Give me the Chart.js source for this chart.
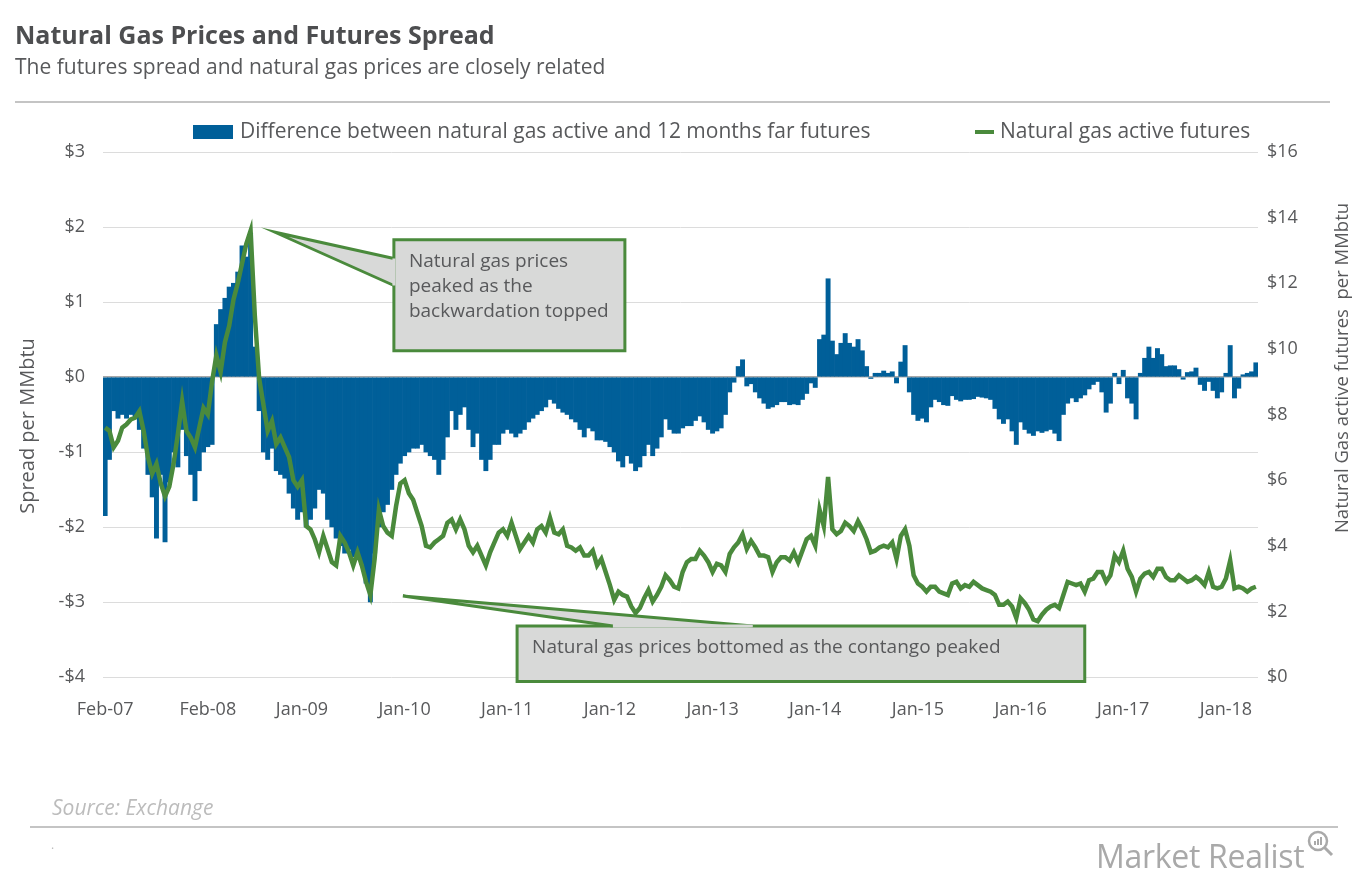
<!DOCTYPE html>
<html>
<head>
<meta charset="utf-8">
<script src="https://cdn.jsdelivr.net/npm/chart.js@4.4.1/dist/chart.umd.min.js"></script>
<style>
    html, body { margin: 0; padding: 0; background: #fff; }
    #wrap { position: relative; width: 1359px; height: 885px; font-family: 'Open Sans', sans-serif; }
    #chart { position: absolute; left: 0; top: 0; }
    .title { position: absolute; left: 15px; top: 17px; font-size: 25px; font-weight: 700; color: #4d4e50; }
    .subtitle { position: absolute; left: 15px; top: 52px; font-size: 21px; font-weight: 400; color: #58595b; }
    .rule { position: absolute; height: 2px; background: #c4c4c4; }
    .source { position: absolute; left: 52px; top: 793px; font-size: 21px; font-style: italic; color: #bcbcbc; }
    .logo { position: absolute; left: 1096px; top: 834px; font-size: 32px; color: #a9a9a9; letter-spacing: -0.3px; }
    .dot { position: absolute; left: 51px; top: 836px; font-size: 12px; color: #bbb; }
</style>
</head>
<body>
<div id="wrap">
    <canvas id="chart" width="1359" height="885"></canvas>
    <div class="title">Natural Gas Prices and Futures Spread</div>
    <div class="subtitle">The futures spread and natural gas prices are closely related</div>
    <div class="rule" style="left:15px; top:101px; width:1315px;"></div>
    <div class="source">Source: Exchange</div>
    <div class="rule" style="left:30px; top:826px; width:1308px;"></div>
    <div class="dot">.</div>
    <div class="logo">Market Realist</div>
    <svg style="position:absolute; left:1305px; top:828px;" width="30" height="32">
        <circle cx="13" cy="13" r="9" fill="none" stroke="#a9a9a9" stroke-width="2.5"/>
        <line x1="19.5" y1="19.5" x2="27" y2="27" stroke="#a9a9a9" stroke-width="3"/>
        <rect x="9" y="13" width="2" height="4" fill="#a9a9a9"/>
        <rect x="12" y="11" width="2" height="6" fill="#a9a9a9"/>
        <rect x="15" y="9" width="2" height="8" fill="#a9a9a9"/>
    </svg>
</div>
<script>
// 반월 단위 데이터: 2007년 2월 전반 ~ 2018년 4월 전반
const startYear = 2007;
const startMonth = 1; // 0 = Jan
const monthNames = ['Jan', 'Feb', 'Mar', 'Apr', 'May', 'Jun', 'Jul', 'Aug', 'Sep', 'Oct', 'Nov', 'Dec'];

// 축 눈금 라벨과 그 위치(반월 인덱스)
const tickLabels = ['Feb-07', 'Feb-08', 'Jan-09', 'Jan-10', 'Jan-11', 'Jan-12', 'Jan-13', 'Jan-14', 'Jan-15', 'Jan-16', 'Jan-17', 'Jan-18'];
const tickIndex = [0, 24, 46, 70, 94, 118, 142, 166, 190, 214, 238, 262];

// 근월물 - 12개월물 스프레드 ($/MMbtu)
const spread = [
    -1.85, -1.1, -0.45, -0.55, -0.5, -0.55, -0.5, -0.55, -0.7, -0.95,
    -1.3, -1.6, -2.15, -1.3, -2.2, -1.4, -1.0, -1.2, -0.7, -1.05,
    -1.3, -1.65, -1.25, -1.0, -0.93, -0.9, 0.7, 0.9, 1.05, 1.2,
    1.25, 1.4, 1.75, 1.6, 1.92, 0.4, -0.45, -1.0, -1.1, -0.95,
    -1.25, -1.3, -1.35, -1.55, -1.75, -1.9, -1.8, -2.0, -1.9, -1.75,
    -1.5, -1.55, -1.9, -2.0, -2.15, -2.25, -2.35, -2.3, -2.4, -2.4,
    -2.5, -2.75, -3.0, -2.35, -2.0, -1.8, -1.7, -1.5, -1.3, -1.15,
    -1.05, -1.0, -0.95, -0.95, -0.9, -1.0, -1.05, -1.1, -1.3, -1.1,
    -0.8, -0.45, -0.7, -0.5, -0.4, -0.7, -0.93, -0.75, -1.1, -1.25,
    -1.1, -0.9, -0.9, -0.75, -0.7, -0.75, -0.8, -0.75, -0.7, -0.6,
    -0.55, -0.5, -0.45, -0.4, -0.3, -0.35, -0.42, -0.47, -0.5, -0.56,
    -0.6, -0.7, -0.8, -0.68, -0.72, -0.84, -0.84, -0.86, -0.93, -1.0,
    -1.12, -1.2, -1.05, -1.15, -1.25, -1.2, -1.05, -0.9, -1.05, -0.95,
    -0.8, -0.56, -0.7, -0.75, -0.75, -0.68, -0.65, -0.65, -0.58, -0.52,
    -0.6, -0.7, -0.75, -0.72, -0.68, -0.5, -0.2, -0.07, 0.14, 0.23,
    -0.12, -0.09, -0.2, -0.28, -0.35, -0.42, -0.4, -0.37, -0.33, -0.33,
    -0.37, -0.36, -0.37, -0.3, -0.22, -0.08, -0.14, 0.5, 0.56, 1.31,
    0.48, 0.3, 0.45, 0.58, 0.45, 0.4, 0.5, 0.35, 0.14, -0.02,
    0.05, 0.05, 0.08, 0.05, 0.07, -0.08, 0.2, 0.42, -0.2, -0.5,
    -0.58, -0.55, -0.6, -0.4, -0.3, -0.33, -0.37, -0.38, -0.25, -0.3,
    -0.32, -0.3, -0.3, -0.29, -0.26, -0.27, -0.28, -0.3, -0.42, -0.56,
    -0.62, -0.56, -0.72, -0.9, -0.6, -0.7, -0.75, -0.78, -0.72, -0.74,
    -0.72, -0.7, -0.75, -0.85, -0.5, -0.35, -0.28, -0.33, -0.28, -0.24,
    -0.16, -0.1, -0.06, -0.2, -0.47, -0.35, 0.05, -0.09, 0.09, -0.28,
    -0.35, -0.56, 0.05, 0.25, 0.4, 0.25, 0.38, 0.3, 0.14, 0.15,
    0.15, 0.1, -0.03, 0.06, 0.07, 0.12, -0.1, -0.18, -0.06, -0.18,
    -0.28, -0.2, 0.05, 0.42, -0.28, -0.15, 0.03, 0.05, 0.07, 0.19
];

// 천연가스 근월물 가격 ($/MMbtu)
const gasPrice = [
    7.6, 7.5, 7.0, 7.2, 7.6, 7.7, 7.85, 7.9, 8.1, 7.5,
    6.7, 6.2, 6.5, 5.9, 5.5, 5.8, 6.5, 7.4, 8.4, 7.5,
    7.3, 7.0, 7.6, 8.2, 8.0, 9.0, 9.8, 9.3, 10.2, 10.7,
    11.5, 12.0, 12.6, 13.2, 13.6, 11.0, 9.1, 8.3, 7.5, 7.8,
    7.1, 7.3, 7.0, 6.7, 6.0, 5.8, 6.0, 4.6, 4.5, 4.2,
    3.8, 4.3, 3.9, 3.5, 3.4, 4.3, 4.1, 3.8, 3.4, 3.8,
    3.4, 2.9, 2.5, 3.6, 5.1, 4.6, 4.4, 4.3, 5.2, 5.9,
    6.0, 5.6, 5.4, 5.0, 4.6, 4.0, 3.95, 4.1, 4.2, 4.3,
    4.7, 4.8, 4.5, 4.8, 4.5, 4.0, 3.8, 4.0, 3.7, 3.4,
    3.8, 4.1, 4.4, 4.5, 4.3, 4.7, 4.3, 3.9, 4.1, 4.3,
    4.1, 4.5, 4.6, 4.4, 4.85, 4.4, 4.35, 4.5, 4.0, 3.95,
    3.85, 3.95, 3.7, 3.7, 3.85, 3.4, 3.6, 3.2, 2.8, 2.35,
    2.6, 2.5, 2.45, 2.15, 1.95, 2.1, 2.4, 2.65, 2.3, 2.5,
    2.75, 3.1, 2.95, 2.75, 2.7, 3.2, 3.5, 3.6, 3.6, 3.85,
    3.7, 3.5, 3.2, 3.45, 3.4, 3.2, 3.75, 3.95, 4.1, 4.35,
    3.9, 4.15, 3.95, 3.7, 3.7, 3.65, 3.2, 3.5, 3.65, 3.65,
    3.55, 3.8, 3.5, 3.85, 4.2, 4.3, 4.0, 5.1, 4.6, 6.1,
    4.5, 4.35, 4.45, 4.7, 4.6, 4.45, 4.75, 4.5, 4.2, 3.8,
    3.85, 3.95, 4.0, 3.95, 4.1, 3.6, 4.3, 4.5, 4.0, 3.1,
    2.85, 2.75, 2.6, 2.75, 2.75, 2.6, 2.55, 2.5, 2.85, 2.9,
    2.7, 2.8, 2.75, 2.9, 2.8, 2.7, 2.65, 2.6, 2.5, 2.2,
    2.2, 2.3, 2.15, 1.8, 2.4, 2.25, 2.05, 1.75, 1.7, 1.9,
    2.05, 2.15, 2.2, 2.1, 2.5, 2.9, 2.85, 2.8, 2.85, 2.6,
    2.95, 3.0, 3.2, 3.2, 2.9, 3.1, 3.7, 3.5, 3.85, 3.3,
    3.05, 2.6, 3.0, 3.15, 3.2, 3.05, 3.3, 3.3, 3.05, 2.95,
    2.95, 3.1, 3.0, 2.9, 2.95, 3.05, 2.95, 2.8, 3.2, 2.75,
    2.7, 2.75, 3.0, 3.55, 2.7, 2.75, 2.7, 2.6, 2.7, 2.75
];

const periods = spread.map((_, i) => {
    const m = startMonth + Math.floor(i / 2);
    const y = startYear + Math.floor(m / 12);
    return `${monthNames[m % 12]}-${String(y).slice(2)} ${i % 2 ? 'H2' : 'H1'}`;
});

const seriesNames = ['Difference between natural gas active and 12 months far futures', 'Natural gas active futures'];
const axisTitles = ['Spread per MMbtu', 'Natural Gas active futures  per MMbtu'];
const barColor = '#005f99';
const lineColor = '#4a8a3c';
const textColor = '#58595b';
const font = "'Open Sans', sans-serif";

// 말풍선 주석: 꼬리 끝(tip), 꼬리 밑변, 박스 모두 (반월 인덱스, 스프레드 값) 좌표
const callouts = [
    {
        lines: ['Natural gas prices', 'peaked as the', 'backwardation topped'],
        box: [67.5, 1.83, 121.5, 0.35],
        tip: [39.7, 1.93],
        base: [[67.5, 1.58], [67.5, 1.22]]
    },
    {
        lines: ['Natural gas prices bottomed as the contango peaked'],
        box: [96.3, -3.32, 229, -4.06],
        tip: [69.6, -2.92],
        base: [[118.7, -3.32], [151.4, -3.32]]
    }
];

const calloutPlugin = {
    id: 'calloutPlugin',
    afterDatasetsDraw(chart) {
        const { ctx, scales } = chart;
        const px = (v) => scales.x.getPixelForValue(v);
        const py = (v) => scales.y.getPixelForValue(v);

        ctx.save();
        callouts.forEach((c) => {
            const x0 = px(c.box[0]);
            const y0 = py(c.box[1]);
            const x1 = px(c.box[2]);
            const y1 = py(c.box[3]);

            ctx.fillStyle = '#d8d9d8';
            ctx.strokeStyle = lineColor;
            ctx.lineWidth = 3;
            ctx.fillRect(x0, y0, x1 - x0, y1 - y0);
            ctx.strokeRect(x0, y0, x1 - x0, y1 - y0);

            // 꼬리
            ctx.beginPath();
            ctx.moveTo(px(c.base[0][0]), py(c.base[0][1]));
            ctx.lineTo(px(c.tip[0]), py(c.tip[1]));
            ctx.lineTo(px(c.base[1][0]), py(c.base[1][1]));
            ctx.fill();
            ctx.stroke();
            // 박스 가장자리 위 꼬리 밑변은 배경색으로 덮기
            ctx.beginPath();
            ctx.moveTo(px(c.base[0][0]), py(c.base[0][1]));
            ctx.lineTo(px(c.base[1][0]), py(c.base[1][1]));
            ctx.strokeStyle = '#d8d9d8';
            ctx.lineWidth = 3;
            ctx.stroke();

            ctx.fillStyle = textColor;
            ctx.font = `19px ${font}`;
            ctx.textBaseline = 'middle';
            ctx.textAlign = 'left';
            c.lines.forEach((line, k) => {
                ctx.fillText(line, x0 + 15, y0 + 22 + k * 25);
            });
        });
        ctx.restore();
    }
};

// 범례와 세로축 제목 직접 그리기
const legendPlugin = {
    id: 'legendPlugin',
    afterDraw(chart) {
        const { ctx } = chart;
        ctx.save();
        ctx.font = `21px ${font}`;
        ctx.textBaseline = 'middle';
        ctx.fillStyle = barColor;
        ctx.fillRect(193, 125, 40, 14);
        ctx.fillStyle = textColor;
        ctx.fillText(seriesNames[0], 240, 132);

        ctx.strokeStyle = lineColor;
        ctx.lineWidth = 4;
        ctx.beginPath();
        ctx.moveTo(975, 132);
        ctx.lineTo(994, 132);
        ctx.stroke();
        ctx.fillText(seriesNames[1], 1000, 132);

        // 두 축 제목 모두 아래에서 위로 읽힘
        ctx.textAlign = 'center';
        ctx.save();
        ctx.translate(28, 426);
        ctx.rotate(-Math.PI / 2);
        ctx.font = `20px ${font}`;
        ctx.fillText(axisTitles[0], 0, 0);
        ctx.restore();

        ctx.save();
        ctx.translate(1343, 368);
        ctx.rotate(-Math.PI / 2);
        ctx.font = `18.5px ${font}`;
        ctx.fillText(axisTitles[1], 0, 0);
        ctx.restore();

        ctx.restore();
    }
};

const money = (v) => (v < 0 ? `-$${Math.abs(v)}` : `$${v}`);

new Chart(document.getElementById('chart'), {
    data: {
        labels: periods,
        datasets: [
            {
                type: 'line',
                label: seriesNames[1],
                data: gasPrice,
                yAxisID: 'y2',
                borderColor: lineColor,
                borderWidth: 4.5,
                pointRadius: 0,
                tension: 0,
                order: 0
            },
            {
                type: 'bar',
                label: seriesNames[0],
                data: spread,
                yAxisID: 'y',
                backgroundColor: barColor,
                barPercentage: 1,
                categoryPercentage: 1,
                borderWidth: 0,
                order: 1
            }
        ]
    },
    plugins: [calloutPlugin, legendPlugin],
    options: {
        responsive: false,
        animation: false,
        layout: {
            padding: { top: 152, left: 12, right: 3, bottom: 158 }
        },
        plugins: {
            legend: { display: false },
            tooltip: { enabled: false }
        },
        scales: {
            x: {
                grid: { display: false },
                border: { display: false },
                afterFit(scale) { scale.height = 50; },
                ticks: {
                    autoSkip: false,
                    maxRotation: 0,
                    padding: 14,
                    color: textColor,
                    font: { family: font, size: 18 },
                    callback(value, index) {
                        const k = tickIndex.indexOf(index);
                        return k >= 0 ? tickLabels[k] : null;
                    }
                }
            },
            y: {
                position: 'left',
                min: -4,
                max: 3,
                afterFit(scale) { scale.width = 91; },
                ticks: {
                    stepSize: 1,
                    padding: 18,
                    color: textColor,
                    font: { family: font, size: 18 },
                    callback: (v) => money(v)
                },
                grid: {
                    drawTicks: false,
                    color: (c) => (c.tick.value === 0 ? '#a8a8a8' : '#dcdcdc'),
                    lineWidth: (c) => (c.tick.value === 0 ? 1.5 : 1)
                },
                border: { display: false }
            },
            y2: {
                position: 'right',
                min: 0,
                max: 16,
                afterFit(scale) { scale.width = 98; },
                ticks: {
                    stepSize: 2,
                    padding: 9,
                    color: textColor,
                    font: { family: font, size: 18 },
                    callback: (v) => money(v)
                },
                grid: { display: false, drawTicks: false },
                border: { display: false }
            }
        }
    }
});
</script>
</body>
</html>
